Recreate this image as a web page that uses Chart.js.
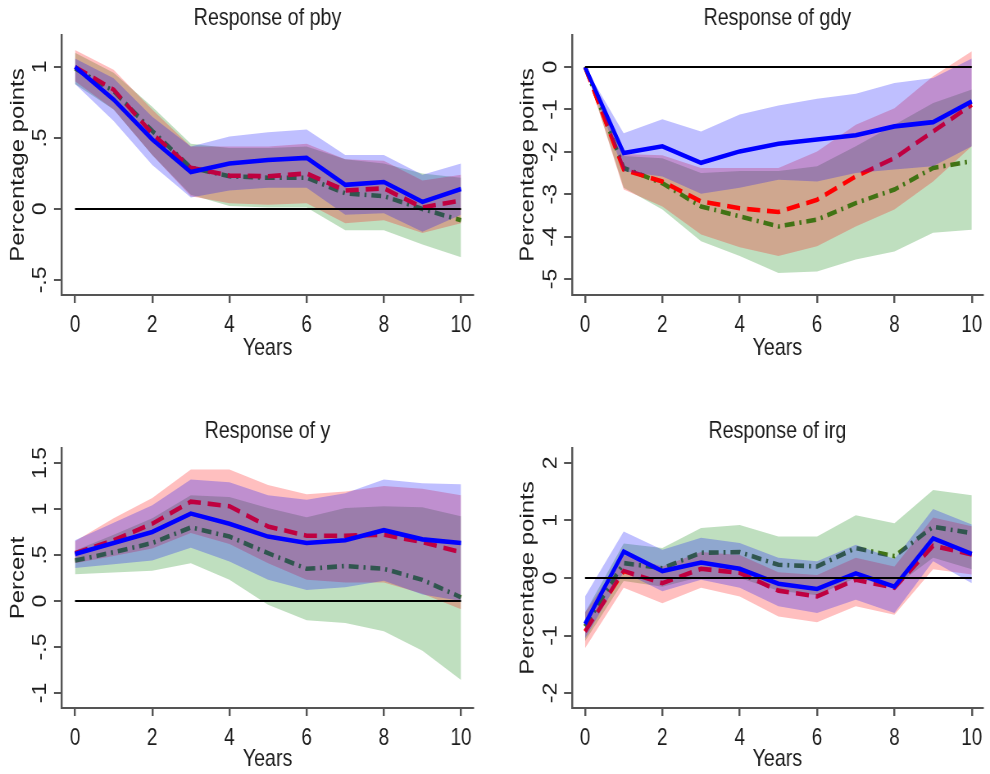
<!DOCTYPE html>
<html>
<head>
<meta charset="utf-8">
<script src="https://cdn.jsdelivr.net/npm/chart.js@4.4.1/dist/chart.umd.min.js"></script>
<style>
  html, body { margin: 0; padding: 0; background: #ffffff; overflow: hidden; }
  #wrap { position: relative; width: 990px; height: 774px; overflow: hidden; }
  /* each panel is drawn wide and compressed horizontally to give the narrow figure look */
  canvas { position: absolute; transform-origin: 0 0; }
</style>
</head>
<body>
<div id="wrap">
  <canvas id="pby" width="604" height="387" style="left:0px;top:0px"></canvas>
  <canvas id="gdy" width="604" height="387" style="left:495px;top:0px"></canvas>
  <canvas id="y" width="604" height="387" style="left:0px;top:387px"></canvas>
  <canvas id="irg" width="604" height="387" style="left:495px;top:387px"></canvas>
</div>
<script>
// Horizon in years
const years = [0, 1, 2, 3, 4, 5, 6, 7, 8, 9, 10];
const xTicks = [0, 2, 4, 6, 8, 10];

// Response of pby
const pbyTicks = [-0.5, 0, 0.5, 1];
const pbyTickLabels = ['-.5', '0', '.5', '1'];
const pbyBlue    = [1.00, 0.77, 0.49, 0.26, 0.32, 0.345, 0.36, 0.17, 0.19, 0.05, 0.14];
const pbyBlueUp  = [1.06, 0.92, 0.65, 0.44, 0.51, 0.54, 0.56, 0.38, 0.38, 0.24, 0.32];
const pbyBlueLo  = [0.88, 0.62, 0.31, 0.08, 0.13, 0.15, 0.15, -0.04, -0.03, -0.16, -0.04];
const pbyRed     = [1.00, 0.84, 0.53, 0.29, 0.235, 0.23, 0.25, 0.13, 0.145, 0.01, 0.06];
const pbyRedUp   = [1.12, 0.98, 0.70, 0.44, 0.44, 0.44, 0.46, 0.35, 0.34, 0.20, 0.24];
const pbyRedLo   = [0.90, 0.70, 0.38, 0.09, 0.04, 0.03, 0.04, -0.10, -0.08, -0.17, -0.10];
const pbyGreen   = [0.99, 0.83, 0.55, 0.29, 0.23, 0.22, 0.22, 0.11, 0.09, 0.00, -0.08];
const pbyGreenUp = [1.10, 0.96, 0.72, 0.46, 0.43, 0.43, 0.44, 0.35, 0.32, 0.25, 0.22];
const pbyGreenLo = [0.88, 0.70, 0.38, 0.10, 0.02, 0.01, 0.01, -0.15, -0.15, -0.25, -0.34];

// Response of gdy
const gdyTicks = [-5, -4, -3, -2, -1, 0];
const gdyTickLabels = ['-5', '-4', '-3', '-2', '-1', '0'];
const gdyBlue    = [0, -2.03, -1.87, -2.26, -1.99, -1.81, -1.71, -1.61, -1.40, -1.30, -0.81];
const gdyBlueUp  = [0, -1.56, -1.23, -1.52, -1.12, -0.91, -0.75, -0.63, -0.38, -0.26, 0.20];
const gdyBlueLo  = [0, -2.46, -2.58, -2.99, -2.85, -2.66, -2.70, -2.50, -2.42, -2.34, -1.87];
const gdyRed     = [0, -2.42, -2.70, -3.17, -3.33, -3.42, -3.13, -2.58, -2.15, -1.52, -0.89];
const gdyRedUp   = [0, -2.05, -2.08, -2.38, -2.38, -2.38, -1.99, -1.36, -0.97, -0.22, 0.37];
const gdyRedLo   = [0, -2.89, -3.29, -3.95, -4.25, -4.46, -4.23, -3.76, -3.36, -2.70, -1.87];
const gdyGreen   = [0, -2.38, -2.74, -3.29, -3.52, -3.76, -3.60, -3.21, -2.89, -2.38, -2.22];
const gdyGreenUp = [0, -2.10, -2.15, -2.50, -2.45, -2.45, -2.34, -1.87, -1.36, -0.85, -0.53];
const gdyGreenLo = [0, -2.85, -3.36, -4.11, -4.46, -4.86, -4.82, -4.54, -4.35, -3.91, -3.84];

// Response of y
const yTicks = [-1, -0.5, 0, 0.5, 1, 1.5];
const yTickLabels = ['-1', '-.5', '0', '.5', '1', '1.5'];
const yBlue    = [0.51, 0.63, 0.75, 0.95, 0.84, 0.70, 0.63, 0.66, 0.77, 0.67, 0.63];
const yBlueUp  = [0.66, 0.85, 1.04, 1.32, 1.29, 1.15, 1.10, 1.17, 1.32, 1.28, 1.27];
const yBlueLo  = [0.36, 0.40, 0.44, 0.58, 0.43, 0.23, 0.12, 0.15, 0.22, 0.07, 0.00];
const yRed     = [0.52, 0.66, 0.84, 1.08, 1.03, 0.81, 0.71, 0.71, 0.72, 0.64, 0.53];
const yRedUp   = [0.65, 0.90, 1.12, 1.43, 1.43, 1.26, 1.16, 1.19, 1.25, 1.22, 1.15];
const yRedLo   = [0.41, 0.49, 0.57, 0.74, 0.62, 0.41, 0.23, 0.20, 0.20, 0.08, -0.09];
const yGreen   = [0.44, 0.53, 0.63, 0.80, 0.70, 0.52, 0.35, 0.38, 0.35, 0.23, 0.04];
const yGreenUp = [0.55, 0.72, 0.90, 1.15, 1.13, 1.01, 0.91, 1.01, 1.03, 1.02, 0.92];
const yGreenLo = [0.29, 0.31, 0.33, 0.41, 0.23, -0.04, -0.21, -0.24, -0.33, -0.54, -0.86];

// Response of irg
const irgTicks = [-2, -1, 0, 1, 2];
const irgTickLabels = ['-2', '-1', '0', '1', '2'];
const irgBlue    = [-0.80, 0.46, 0.12, 0.27, 0.16, -0.10, -0.19, 0.08, -0.15, 0.69, 0.42];
const irgBlueUp  = [-0.32, 0.81, 0.49, 0.70, 0.61, 0.35, 0.29, 0.58, 0.33, 1.20, 0.93];
const irgBlueLo  = [-1.05, 0.10, -0.23, -0.03, -0.17, -0.49, -0.61, -0.38, -0.61, 0.29, -0.09];
const irgRed     = [-0.93, 0.12, -0.09, 0.16, 0.09, -0.22, -0.32, -0.03, -0.17, 0.56, 0.41];
const irgRedUp   = [-0.60, 0.40, 0.20, 0.45, 0.40, 0.10, 0.05, 0.35, 0.20, 1.05, 0.90];
const irgRedLo   = [-1.22, -0.17, -0.44, -0.17, -0.32, -0.67, -0.77, -0.49, -0.64, 0.15, 0.06];
const irgGreen   = [-0.84, 0.26, 0.17, 0.44, 0.45, 0.23, 0.20, 0.52, 0.38, 0.89, 0.78];
const irgGreenUp = [-0.60, 0.60, 0.52, 0.87, 0.92, 0.72, 0.72, 1.09, 0.95, 1.53, 1.44];
const irgGreenLo = [-1.10, -0.05, -0.15, 0.02, 0.00, -0.22, -0.30, 0.00, -0.15, 0.35, 0.15];

// Styling
const FONT = '"Liberation Sans", Arial, sans-serif';
const TXT = '#1c1c1c';
const AXIS = '#555555';
const BLUE = 'rgb(0,0,255)', RED = 'rgb(255,0,0)', GREEN = 'rgb(65,115,20)';
const BLUE_BAND = 'rgba(0,0,255,0.25)', RED_BAND = 'rgba(255,0,0,0.25)', GREEN_BAND = 'rgba(0,128,0,0.25)';

// Panels are 495 px wide on the page; the canvas is drawn wider and squeezed by F.
const PAGE_W = 495, CW = 604, H = 387;
const F = PAGE_W / CW;
document.querySelectorAll('canvas').forEach(c => { c.style.transform = 'scaleX(' + F + ')'; });

const TITLE_SIZE = 24, XTICK_SIZE = 23, XTITLE_SIZE = 24, YTICK_SIZE = 23, YTITLE_SIZE = 24;
const TICK_LEN = 8;

const measure = document.createElement('canvas').getContext('2d');

function panel(id, p) {
  measure.font = YTICK_SIZE + 'px ' + FONT;
  const widest = Math.max(...p.yLabels.map(t => measure.measureText(t).width));
  const axisX = p.axisX / F, right = p.right / F;
  const yTickLen = TICK_LEN / F;
  const pts = arr => years.map((x, i) => ({ x: x, y: arr[i] }));
  const line = (arr, color, dash, order) => ({
    data: pts(arr), borderColor: color, borderWidth: 4.6, borderDash: dash,
    pointRadius: 0, fill: false, order: order, tension: 0
  });
  const band = (up, lo, color, order) => [
    { data: pts(up), borderColor: 'rgba(0,0,0,0)', borderWidth: 0, pointRadius: 0,
      backgroundColor: color, fill: '+1', order: order, tension: 0 },
    { data: pts(lo), borderColor: 'rgba(0,0,0,0)', borderWidth: 0, pointRadius: 0,
      fill: false, order: order, tension: 0 }
  ];
  const s = p.series;
  // lower order is painted on top: zero line, blue line, blue band, red line, green line, red band, green band
  const datasets = [
    { data: [{ x: 0, y: 0 }, { x: 10, y: 0 }], borderColor: '#000', borderWidth: 2,
      pointRadius: 0, fill: false, order: 0 },
    line(s.blue, BLUE, [], 1),
    ...band(s.blueUp, s.blueLo, BLUE_BAND, 2),
    line(s.red, RED, [16, 8.5], 3),
    line(s.green, GREEN, [12, 6, 2.5, 6], 4),
    ...band(s.redUp, s.redLo, RED_BAND, 5),
    ...band(s.greenUp, s.greenLo, GREEN_BAND, 6)
  ];
  const titleLine = TITLE_SIZE * 1.2;
  new Chart(document.getElementById(id), {
    type: 'line',
    data: { datasets: datasets },
    options: {
      responsive: false, animation: false, events: [],
      layout: { padding: { left: 0, right: CW - right, top: 0, bottom: 0 } },
      plugins: {
        legend: { display: false }, tooltip: { enabled: false },
        title: {
          display: true, text: p.title, fullSize: false, color: TXT,
          font: { family: FONT, size: TITLE_SIZE, weight: 'normal' },
          padding: { top: p.titleMid - titleLine / 2, bottom: p.top - (p.titleMid + titleLine / 2) }
        }
      },
      scales: {
        x: {
          type: 'linear', min: p.xMin, max: p.xMax,
          afterBuildTicks: sc => { sc.ticks = xTicks.map(v => ({ value: v })); },
          afterFit: sc => { sc.height = H - p.bottom; },
          grid: { drawOnChartArea: false, drawTicks: true, tickLength: TICK_LEN, color: AXIS, lineWidth: 2 / F },
          border: { display: true, color: AXIS, width: 2 },
          ticks: { autoSkip: false, maxRotation: 0, minRotation: 0, padding: 9.2, color: TXT,
                   font: { family: FONT, size: XTICK_SIZE }, callback: v => String(v) },
          title: { display: true, text: 'Years', color: TXT,
                   font: { family: FONT, size: XTITLE_SIZE },
                   padding: { top: 0, bottom: p.yearsPad } }
        },
        y: {
          type: 'linear', min: p.yMin, max: p.yMax,
          afterBuildTicks: sc => { sc.ticks = p.yTicks.map(v => ({ value: v })); },
          afterFit: sc => { sc.width = axisX; },
          grid: { drawOnChartArea: false, drawTicks: true, tickLength: yTickLen, color: AXIS, lineWidth: 2 },
          border: { display: true, color: AXIS, width: 2 / F },
          ticks: { autoSkip: false, minRotation: 90, maxRotation: 90, crossAlign: 'center',
                   padding: 21 / F - yTickLen - widest / 2, color: TXT,
                   font: { family: FONT, size: YTICK_SIZE },
                   callback: v => p.yLabels[p.yTicks.indexOf(v)] },
          title: { display: true, text: p.yTitle, color: TXT,
                   font: { family: FONT, size: YTITLE_SIZE },
                   padding: { top: p.yTitleX / F - YTITLE_SIZE * 0.6, bottom: 0 } }
        }
      }
    }
  });
}

const leftCol = { axisX: 62, right: 473, xMin: -0.337, xMax: 10.31, yTitleX: 18 };
const rightCol = { axisX: 77, right: 488, xMin: -0.336, xMax: 10.28, yTitleX: 33 };
const topRow = { top: 35, bottom: 295, titleMid: 18.5, yearsPad: 24.6 };
const bottomRow = { top: 61, bottom: 321, titleMid: 44.5, yearsPad: 0 };

panel('pby', Object.assign({}, leftCol, topRow, {
  title: 'Response of pby', yTitle: 'Percentage points', yMin: -0.606, yMax: 1.225,
  yTicks: pbyTicks, yLabels: pbyTickLabels,
  series: { blue: pbyBlue, blueUp: pbyBlueUp, blueLo: pbyBlueLo, red: pbyRed, redUp: pbyRedUp,
            redLo: pbyRedLo, green: pbyGreen, greenUp: pbyGreenUp, greenLo: pbyGreenLo }
}));
panel('gdy', Object.assign({}, rightCol, topRow, {
  title: 'Response of gdy', yTitle: 'Percentage points', yMin: -5.377, yMax: 0.755,
  yTicks: gdyTicks, yLabels: gdyTickLabels,
  series: { blue: gdyBlue, blueUp: gdyBlueUp, blueLo: gdyBlueLo, red: gdyRed, redUp: gdyRedUp,
            redLo: gdyRedLo, green: gdyGreen, greenUp: gdyGreenUp, greenLo: gdyGreenLo }
}));
panel('y', Object.assign({}, leftCol, bottomRow, {
  title: 'Response of y', yTitle: 'Percent', yMin: -1.163, yMax: 1.663,
  yTicks: yTicks, yLabels: yTickLabels,
  series: { blue: yBlue, blueUp: yBlueUp, blueLo: yBlueLo, red: yRed, redUp: yRedUp,
            redLo: yRedLo, green: yGreen, greenUp: yGreenUp, greenLo: yGreenLo }
}));
panel('irg', Object.assign({}, rightCol, bottomRow, {
  title: 'Response of irg', yTitle: 'Percentage points', yMin: -2.26, yMax: 2.26,
  yTicks: irgTicks, yLabels: irgTickLabels,
  series: { blue: irgBlue, blueUp: irgBlueUp, blueLo: irgBlueLo, red: irgRed, redUp: irgRedUp,
            redLo: irgRedLo, green: irgGreen, greenUp: irgGreenUp, greenLo: irgGreenLo }
}));
</script>
</body>
</html>
